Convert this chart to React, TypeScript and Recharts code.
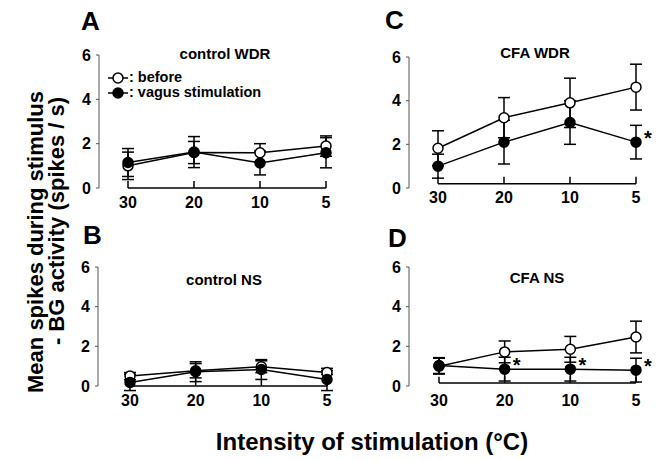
import React from 'react';
import { LineChart, Line, XAxis, YAxis, ErrorBar, ReferenceLine, Legend } from 'recharts';

const FONT = '"Liberation Sans", Arial, Helvetica, sans-serif';

const categories = ['30', '20', '10', '5'];
const yTicks = [0, 2, 4, 6];
const seriesNames = ['before', 'vagus stimulation'];

// A: control WDR
const controlWdrBefore = [1.0, 1.6, 1.59, 1.89];
const controlWdrBeforeErr = [0.62, 0.5, 0.41, 0.46];
const controlWdrVagus = [1.15, 1.62, 1.13, 1.59];
const controlWdrVagusErr = [0.63, 0.7, 0.54, 0.68];
const controlWdrSig = [false, false, false, false];

// B: control NS
const controlNsBefore = [0.5, 0.77, 0.97, 0.68];
const controlNsBeforeErr = [0.18, 0.36, 0.3, 0.1];
const controlNsVagus = [0.18, 0.72, 0.83, 0.33];
const controlNsVagusErr = [0.41, 0.5, 0.5, 0.56];
const controlNsSig = [false, false, false, false];

// C: CFA WDR
const cfaWdrBefore = [1.82, 3.22, 3.9, 4.62];
const cfaWdrBeforeErr = [0.8, 0.92, 1.13, 1.05];
const cfaWdrVagus = [1.0, 2.1, 3.0, 2.1];
const cfaWdrVagusErr = [0.55, 1.0, 1.0, 0.77];
const cfaWdrSig = [false, false, false, true];

// D: CFA NS
const cfaNsBefore = [1.0, 1.72, 1.85, 2.47];
const cfaNsBeforeErr = [0.4, 0.55, 0.65, 0.8];
const cfaNsVagus = [1.03, 0.85, 0.85, 0.8];
const cfaNsVagusErr = [0.4, 0.6, 0.6, 0.6];
const cfaNsSig = [false, true, true, true];

const makeRows = (b: number[], be: number[], v: number[], ve: number[], sig: boolean[]) =>
  categories.map((c, i) => ({ cat: c, before: b[i], beforeErr: be[i], vagus: v[i], vagusErr: ve[i], sig: sig[i] }));

const panels = [
  {
    key: 'A', title: 'control WDR', rows: makeRows(controlWdrBefore, controlWdrBeforeErr, controlWdrVagus, controlWdrVagusErr, controlWdrSig),
    box: { left: 0, top: 0, width: 340, height: 215 }, margin: { top: 55, right: 4, bottom: 7, left: 59 },
    padding: { left: 29, right: 10 }, tickMargin: 9, base: 0, legend: true,
  },
  {
    key: 'B', title: 'control NS', rows: makeRows(controlNsBefore, controlNsBeforeErr, controlNsVagus, controlNsVagusErr, controlNsSig),
    box: { left: 0, top: 210, width: 340, height: 203 }, margin: { top: 57, right: 3, bottom: 7, left: 58 },
    padding: { left: 32, right: 10 }, tickMargin: 9, base: 0, legend: false,
  },
  {
    key: 'C', title: 'CFA WDR', rows: makeRows(cfaWdrBefore, cfaWdrBeforeErr, cfaWdrVagus, cfaWdrVagusErr, cfaWdrSig),
    box: { left: 310, top: 0, width: 352, height: 215 }, margin: { top: 57, right: 16, bottom: 7, left: 59 },
    padding: { left: 29, right: 10 }, tickMargin: 4, base: 0.2, legend: false,
  },
  {
    key: 'D', title: 'CFA NS', rows: makeRows(cfaNsBefore, cfaNsBeforeErr, cfaNsVagus, cfaNsVagusErr, cfaNsSig),
    box: { left: 310, top: 210, width: 352, height: 203 }, margin: { top: 57, right: 16, bottom: 7, left: 59 },
    padding: { left: 30, right: 10 }, tickMargin: 9, base: 0.15, legend: false,
  },
];

const seriesFills = ['#ffffff', '#000000'];

const renderLegend = (props: any) => {
  const payload = (props && props.payload) || [];
  return (
    <div style={{ fontFamily: FONT, fontWeight: 'bold', fontSize: 14.5, lineHeight: '15px', color: '#000' }}>
      {payload.map((entry: any, i: number) => (
        <div key={String(entry.value)} style={{ display: 'flex', alignItems: 'center', height: 15 }}>
          <svg width={20} height={14} style={{ display: 'block' }}>
            <line x1={0} y1={7} x2={20} y2={7} stroke="#000" strokeWidth={1.5} />
            <circle cx={10} cy={7} r={5} fill={seriesFills[i]} stroke="#000" strokeWidth={1.5} />
          </svg>
          <span style={{ marginLeft: 1, whiteSpace: 'nowrap' }}>{': ' + entry.value}</span>
        </div>
      ))}
    </div>
  );
};

const renderStar = (rows: any[]) => (p: any) => {
  const row = rows[p.index];
  if (!row || !row.sig) return <g key={'s' + p.index} />;
  return (
    <text key={'s' + p.index} x={p.x + 12} y={p.y + 3} textAnchor="middle" fontSize={20} fontWeight="bold" fontFamily={FONT} fill="#000">*</text>
  );
};

const tickStyle = { fill: '#000', fontSize: 16, fontWeight: 'bold', fontFamily: FONT };

function Panel({ p }: { p: any }) {
  const tickLen = 0.32;
  return (
    <div style={{ position: 'absolute', left: p.box.left, top: p.box.top }}>
      <LineChart width={p.box.width} height={p.box.height} data={p.rows} margin={p.margin}>
        <XAxis dataKey="cat" type="category" axisLine={false} tickLine={false} tickSize={0} tickMargin={p.tickMargin}
          padding={p.padding} height={20} interval={0} tick={tickStyle} />
        <YAxis type="number" domain={[0, 6]} allowDataOverflow ticks={yTicks} interval={0} width={40}
          axisLine={{ stroke: '#555', strokeWidth: 1 }} tickLine={{ stroke: '#555', strokeWidth: 1 }} tickSize={3} tickMargin={5} tick={tickStyle} />
        <ReferenceLine segment={[{ x: categories[0], y: p.base }, { x: categories[categories.length - 1], y: p.base }]}
          stroke="#000" strokeWidth={1.5} ifOverflow="visible" />
        {categories.map((c) => (
          <ReferenceLine key={'t' + c} segment={[{ x: c, y: p.base }, { x: c, y: p.base + tickLen }]} stroke="#000" strokeWidth={1.5} ifOverflow="visible" />
        ))}
        <Line dataKey="before" name={seriesNames[0]} type="linear" stroke="#000" strokeWidth={1.5} isAnimationActive={false}
          dot={{ r: 5, fill: seriesFills[0], stroke: '#000', strokeWidth: 1.5, clipDot: false }} activeDot={false}>
          <ErrorBar dataKey="beforeErr" width={6} stroke="#000" strokeWidth={1.5} direction="y" isAnimationActive={false} />
        </Line>
        <Line dataKey="vagus" name={seriesNames[1]} type="linear" stroke="#000" strokeWidth={1.5} isAnimationActive={false}
          dot={{ r: 5, fill: seriesFills[1], stroke: '#000', strokeWidth: 1.5, clipDot: false }} activeDot={false}
          label={renderStar(p.rows)}>
          <ErrorBar dataKey="vagusErr" width={6} stroke="#000" strokeWidth={1.5} direction="y" isAnimationActive={false} />
        </Line>
        {p.legend && (
          <Legend layout="horizontal" verticalAlign="middle" align="center" content={renderLegend}
            wrapperStyle={{ left: 108, top: 70, width: 'auto', height: 'auto' }} />
        )}
      </LineChart>
    </div>
  );
}

const panelLetters = [
  { t: 'A', x: 81, y: 30 },
  { t: 'C', x: 385, y: 29 },
  { t: 'B', x: 83, y: 244 },
  { t: 'D', x: 388, y: 247 },
];
const panelTitles = [
  { t: 'control WDR', x: 225, y: 59 },
  { t: 'CFA WDR', x: 535, y: 58 },
  { t: 'control NS', x: 224, y: 285 },
  { t: 'CFA NS', x: 537, y: 283 },
];

export default function App() {
  return (
    <div style={{ position: 'absolute', left: 0, top: 0, width: 662, height: 460, background: '#fff', fontFamily: FONT, overflow: 'hidden' }}>
      {panels.map((p) => <Panel key={p.key} p={p} />)}
      <svg width={662} height={460} style={{ position: 'absolute', left: 0, top: 0, pointerEvents: 'none' }}>
        {panelLetters.map((l) => (
          <text key={l.t} x={l.x} y={l.y} fontSize={26} fontWeight="bold" fontFamily={FONT} fill="#000">{l.t}</text>
        ))}
        {panelTitles.map((l) => (
          <text key={l.t} x={l.x} y={l.y} fontSize={15} fontWeight="bold" fontFamily={FONT} fill="#000" textAnchor="middle">{l.t}</text>
        ))}
        <text transform="translate(43,242) rotate(-90)" textAnchor="middle" fontSize={22} fontWeight="bold" fontFamily={FONT} fill="#000">Mean spikes during stimulus</text>
        <text transform="translate(64,221) rotate(-90)" textAnchor="middle" fontSize={22} fontWeight="bold" fontFamily={FONT} fill="#000">- BG activity (spikes / s)</text>
        <text x={372} y={450} textAnchor="middle" fontSize={24} fontWeight="bold" fontFamily={FONT} fill="#000">Intensity of stimulation (°C)</text>
      </svg>
    </div>
  );
}
